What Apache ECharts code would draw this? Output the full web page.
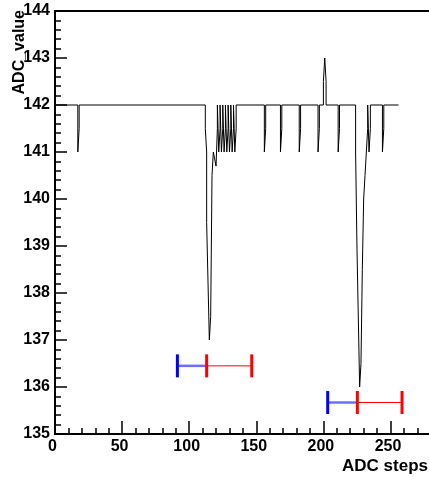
<!DOCTYPE html>
<html><head><meta charset="utf-8">
<script src="https://cdn.jsdelivr.net/npm/echarts/dist/echarts.min.js"></script>
<style>html,body{margin:0;padding:0;background:#fff;overflow:hidden}#c{width:429px;height:477px}</style>
</head><body><div id="c"></div>
<script>
// ADC steps (x) and ADC value (y) of the scan trace
const steps = [0,
  17,17,18,18,
  112,112,113,113,114,115,116,117,118,119,120,121,121,
  122,122,123,123, 124,124,125,125, 126,126,127,127, 128,128,129,129,
  130,130,131,131, 132,132,133,133, 134,134,135,135,
  156,156,157,157, 168,168,169,169, 182,182,183,183, 196,196,197,197,
  200,200,201,202,202,
  211,211,212,212,
  224,224,225,227,228,229,230,231,232,233,233,234,235,235,
  244,244,245,245,
  256];
const adcValues = [142,
  142,141,141.5,142,
  142,141.5,141,139.5,139.5,137,137.5,140.5,141,141,140.7,141.5,142,
  142,141,141.5,142, 142,141,141.5,142, 142,141,141.5,142, 142,141,141.5,142,
  142,141,141.5,142, 142,141,141.5,142, 142,141,141.5,142,
  142,141,141.5,142, 142,141,141.5,142, 142,141,141.5,142, 142,141,141.5,142,
  142,142.5,143,142.5,142,
  142,141,141.5,142,
  142,141,139,136,136.5,138.5,140,140.5,141,141.5,142,141,141.5,142,
  142,141,141.5,142,
  142];
// horizontal range markers: blue part (low -> mid), red part (mid -> high)
const rangeY    = [136.45, 135.67];
const rangeLow  = [91.2, 203.2];
const rangeMid  = [113.0, 225.3];
const rangeHigh = [146.6, 258.6];

const xMin = 0, xMax = 300, xInterval = 50;
const yMin = 135, yMax = 144, yInterval = 1;
const xTitle = 'ADC steps';
const yTitle = 'ADC_value';

const chart = echarts.init(document.getElementById('c'), null, {renderer: 'canvas'});
const FONT = '"Liberation Sans", Arial, Helvetica, sans-serif';
const lineData = steps.map((s, i) => [s, adcValues[i]]);
const rangeData = rangeY.map((y, i) => [rangeLow[i], rangeMid[i], rangeHigh[i], y]);

chart.setOption({
  animation: false,
  backgroundColor: '#fff',
  grid: {left: 55, top: 11, width: 402.6, height: 423, containLabel: false, outerBoundsMode: 'none',
         show: true, borderColor: '#000', borderWidth: 2, backgroundColor: 'transparent'},
  xAxis: {
    type: 'value', min: xMin, max: xMax, interval: xInterval,
    axisLine: {show: true, lineStyle: {color: '#000', width: 2}},
    axisTick: {show: true, inside: true, length: 13, lineStyle: {color: '#000', width: 1.5}},
    minorTick: {show: true, splitNumber: 5, length: 6, lineStyle: {color: '#000', width: 1.5}},
    splitLine: {show: false},
    axisLabel: {color: '#000', fontFamily: FONT, fontWeight: 'bold', fontSize: 16, margin: 5,
                padding: [0, 5, 0, 0], showMaxLabel: false}
  },
  yAxis: {
    type: 'value', min: yMin, max: yMax, interval: yInterval,
    axisLine: {show: true, lineStyle: {color: '#000', width: 2}},
    axisTick: {show: true, inside: true, length: 12, lineStyle: {color: '#000', width: 1.5}},
    minorTick: {show: true, splitNumber: 5, length: 6, lineStyle: {color: '#000', width: 1.5}},
    splitLine: {show: false},
    axisLabel: {color: '#000', fontFamily: FONT, fontWeight: 'bold', fontSize: 16, margin: 5}
  },
  graphic: [
    {type: 'text', right: 1, top: 458, style: {text: xTitle, fill: '#000', font: 'bold 17px ' + FONT}},
    {type: 'text', x: 20, y: 10, rotation: Math.PI / 2,
     style: {text: yTitle, fill: '#000', font: 'bold 16px ' + FONT, textAlign: 'right', textVerticalAlign: 'middle'}}
  ],
  series: [
    {type: 'line', data: lineData, showSymbol: false, symbol: 'none',
     lineStyle: {color: '#000', width: 1}, z: 3},
    {type: 'custom', data: rangeData, z: 4,
     encode: {x: [0, 1, 2], y: 3},
     renderItem: function (params, api) {
       const y = api.value(3);
       const pL = api.coord([api.value(0), y]);
       const pM = api.coord([api.value(1), y]);
       const pH = api.coord([api.value(2), y]);
       const h = 11.5;
       const cap = (p, c) => ({type: 'line', shape: {x1: p[0], y1: p[1] - h, x2: p[0], y2: p[1] + h},
                                style: {stroke: c, lineWidth: 3}});
       return {type: 'group', children: [
         {type: 'line', shape: {x1: pL[0], y1: pL[1], x2: pM[0], y2: pM[1]},
          style: {stroke: 'rgba(60,60,255,0.75)', lineWidth: 2.5}},
         {type: 'line', shape: {x1: pM[0], y1: pM[1], x2: pH[0], y2: pH[1]},
          style: {stroke: '#ff0000', lineWidth: 1}},
         cap(pL, '#0000ff'), cap(pM, '#ff0000'), cap(pH, '#ff0000')
       ]};
     }}
  ]
});
</script></body></html>
